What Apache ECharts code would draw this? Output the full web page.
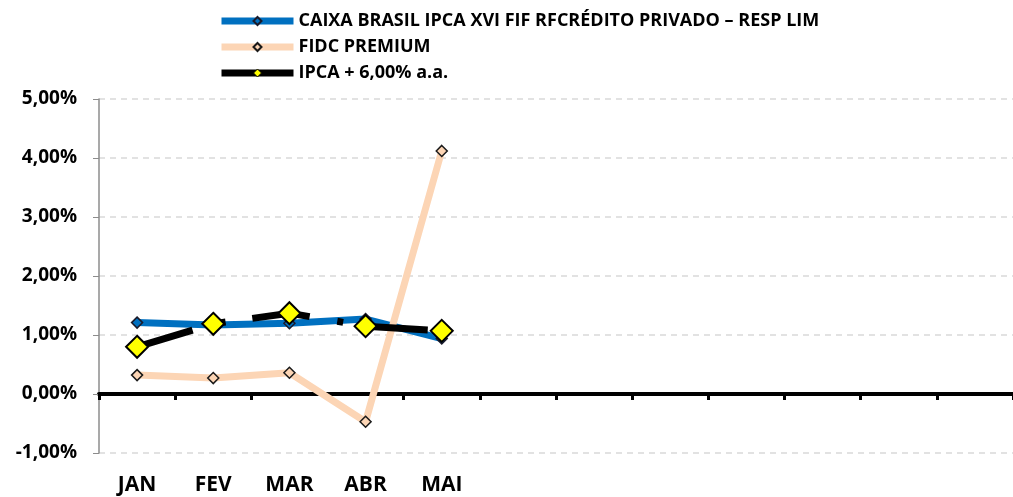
<!DOCTYPE html>
<html>
<head>
<meta charset="utf-8">
<script src="https://cdn.jsdelivr.net/npm/echarts@6/dist/echarts.min.js"></script>
<style>
  html, body { margin: 0; padding: 0; background: #fff; }
  #chart { width: 1013px; height: 497px; }
</style>
</head>
<body>
<div id="chart"></div>
<script>
const months = ['JAN', 'FEV', 'MAR', 'ABR', 'MAI', '', '', '', '', '', '', ''];
const caixa = [1.21, 1.17, 1.20, 1.27, 0.94];
const fidc = [0.32, 0.27, 0.36, -0.47, 4.12];
const ipca = [0.80, 1.19, 1.37, 1.15, 1.07];

const names = [
  'CAIXA BRASIL IPCA XVI FIF RFCRÉDITO PRIVADO – RESP LIM',
  'FIDC PREMIUM',
  'IPCA + 6,00% a.a.'
];

const font = '"Open Sans", sans-serif';
const chart = echarts.init(document.getElementById('chart'));

const pct = v => v.toFixed(2).replace('.', ',') + '%';

chart.setOption({
  animation: false,
  textStyle: { fontFamily: font },
  legend: {
    orient: 'vertical',
    left: 218,
    top: 12,
    padding: 0,
    itemWidth: 72,
    itemHeight: 10,
    itemGap: 8,
    textStyle: { fontFamily: font, fontWeight: 'bold', fontSize: 18, color: '#000' },
    data: [
      { name: names[0], lineStyle: { width: 7 } },
      { name: names[1], lineStyle: { width: 7 } },
      { name: names[2], lineStyle: { width: 7, type: 'solid' }, itemStyle: { borderWidth: 1 } }
    ]
  },
  grid: { left: 99, right: -8, top: 99, bottom: 44 },
  xAxis: [
    {
      type: 'category',
      data: months,
      boundaryGap: true,
      axisLine: { onZero: true, lineStyle: { color: '#000', width: 4 } },
      axisTick: { show: true, length: 6, lineStyle: { color: '#000', width: 3 } },
      axisLabel: { show: false },
      splitLine: { show: false }
    },
    {
      type: 'category',
      data: months,
      position: 'bottom',
      boundaryGap: true,
      axisLine: { show: false, onZero: false },
      axisTick: { show: false },
      axisLabel: {
        margin: 22,
        interval: 0,
        fontFamily: font,
        fontWeight: 'bold',
        fontSize: 21,
        color: '#000'
      }
    }
  ],
  yAxis: {
    type: 'value',
    min: -1,
    max: 5,
    interval: 1,
    axisLine: { show: true, lineStyle: { color: '#8c8c8c', width: 1.5 } },
    axisTick: { show: true, length: 6, lineStyle: { color: '#8c8c8c' } },
    axisLabel: {
      formatter: pct,
      margin: 22,
      fontFamily: font,
      fontWeight: 'bold',
      fontSize: 19,
      color: '#000'
    },
    splitLine: { lineStyle: { color: '#d9d9d9', type: [6, 5], width: 1.5 } }
  },
  series: [
    {
      name: names[0],
      type: 'line',
      data: caixa,
      symbol: 'diamond',
      symbolSize: 11,
      lineStyle: { color: '#0070c0', width: 7 },
      itemStyle: { color: '#0070c0', borderColor: '#1a1a2a', borderWidth: 1.5 }
    },
    {
      name: names[1],
      type: 'line',
      data: fidc,
      symbol: 'diamond',
      symbolSize: 11,
      lineStyle: { color: '#fcd5b5', width: 7 },
      itemStyle: { color: '#fcd5b5', borderColor: '#1a1a1a', borderWidth: 1.5 }
    },
    {
      name: names[2],
      type: 'line',
      data: ipca,
      symbol: 'diamond',
      symbolSize: 22,
      lineStyle: { color: '#000', width: 7, type: [58, 28, 6, 27] },
      itemStyle: { color: '#ffff00', borderColor: '#000', borderWidth: 2 }
    }
  ]
});
</script>
</body>
</html>
